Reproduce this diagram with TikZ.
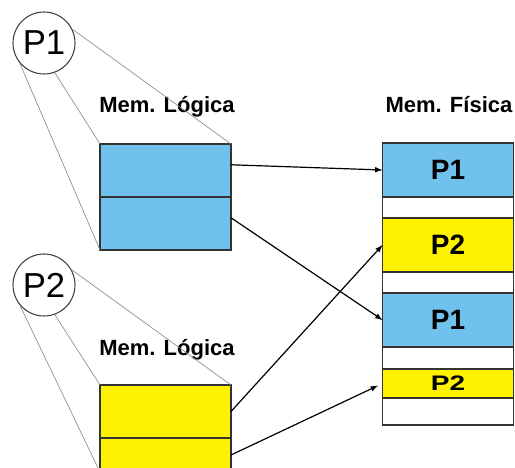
\documentclass[tikz,border=0pt]{standalone}
\usepackage{fontspec}
\setmainfont{Liberation Sans}
\usepackage{graphicx}
\usetikzlibrary{positioning}

\definecolor{memblue}{RGB}{112,193,236}
\definecolor{memyellow}{RGB}{255,242,0}

\begin{document}
\begin{tikzpicture}[x=0.75pt, y=-0.75pt,
	cell/.style={draw=black!80, line width=0.9pt, minimum width=98.25pt, inner sep=0pt, outer sep=0pt, font=\fontsize{21}{23}\selectfont\bfseries},
	proc/.style={circle, draw=black!75, line width=0.8pt, minimum size=46.5pt, inner sep=0pt, font=\fontsize{26}{28}\selectfont},
	title/.style={font=\fontsize{16.5}{18}\selectfont\bfseries},
	zoomline/.style={draw=black!45, line width=0.5pt},
	map/.style={line width=0.9pt, -latex}]

\useasboundingbox (0,0) rectangle (515,468);
\clip (0,0) rectangle (515,468);

\node[proc] (p1) at (44,43) {P1};
\node[proc] (p2) at (44,285) {P2};

\node[title] (lt1) at (167,107) {Mem. Lógica};
\node[title] (lt2) at (167,350) {Mem. Lógica};
\node[title] (ft) at (449,105) {Mem. Física};

% logical memory
\node[cell, fill=memblue, minimum height=39.75pt] (l1a) at (165.5,170.5) {};
\node[cell, fill=memblue, minimum height=39.75pt, below=0pt of l1a] (l1b) {};
\node[cell, fill=memyellow, minimum height=39.75pt] (l2a) at (165.5,411.5) {};
\node[cell, fill=memyellow, minimum height=25.5pt, below=0pt of l2a] (l2b) {};

% physical memory
\node[cell, fill=memblue, minimum height=40.5pt] (f1) at (448,170) {P1};
\foreach \name/\prev/\h/\col/\txt in {e1/f1/15.75/white/{}, f2/e1/40.5/memyellow/P2, e2/f2/15.75/white/{},
	f3/e2/40.5/memblue/P1, e3/f3/16.5/white/{}, f4/e3/21.75/memyellow/{\scalebox{1}[0.75]{P2}}, e4/f4/20.25/white/{}} {
	\node[cell, fill=\col, minimum height=\h pt, below=0pt of \prev] (\name) {\txt};
}

\draw[zoomline] (p1.26) -- (l1a.north east);
\draw[zoomline] (p1.-70) -- (l1a.north west);
\draw[zoomline] (p1.-140) -- (l1b.south west);
\draw[zoomline] (p2.29) -- (l2a.north east);
\draw[zoomline] (p2.-70) -- (l2a.north west);
\draw[zoomline] (p2.-140) -- (l2b.south west);

\draw[map] (l1a.5) -- (f1.west);
\draw[map] (l1b.5) -- (f3.west);
\draw[map] (l2a.east) -- (f2.west);
\draw[map, shorten >=3.75pt] (l2b.east) -- (f4.west);
\end{tikzpicture}
\end{document}
